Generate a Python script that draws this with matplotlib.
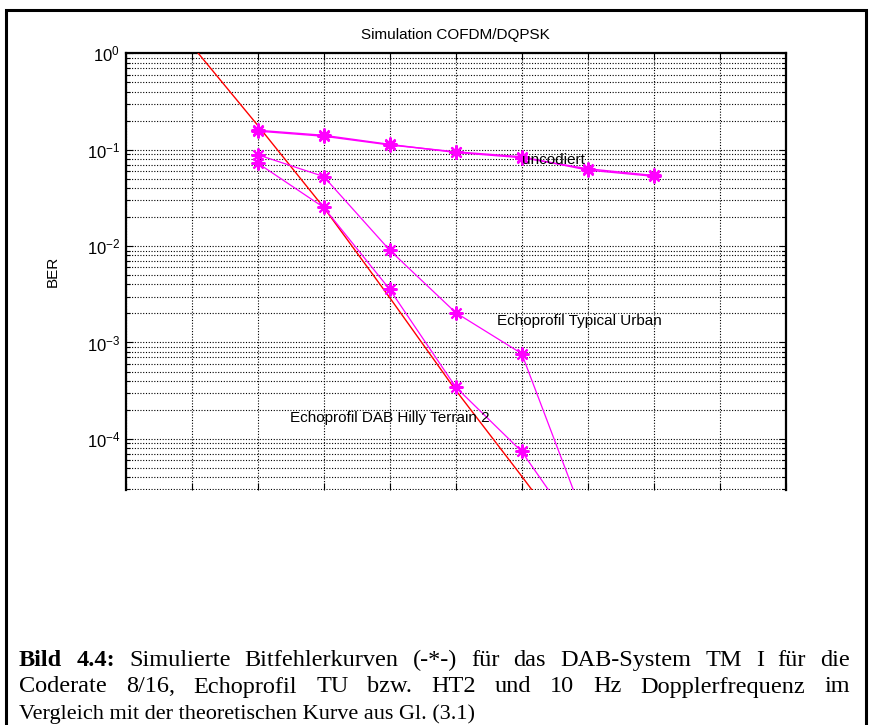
import numpy as np
import matplotlib
matplotlib.use('Agg')
import matplotlib.pyplot as plt
from matplotlib.patches import Rectangle
from matplotlib.ticker import FixedLocator, LogLocator, NullFormatter, NullLocator

# ---------------- data ----------------
snr_grid = [0, 2, 4, 6, 8, 10, 12, 14, 16, 18, 20]
snr = [4, 6, 8, 10, 12, 14, 16]
ber_uncoded_a = [0.159, 0.141, 0.1135, 0.0937, 0.0826, 0.0634, 0.0540]
ber_uncoded_b = [0.156, 0.138, 0.1120, 0.0950, 0.0845, 0.0615, 0.0530]
snr_tu = [4, 6, 8, 10, 12, 14]
ber_tu = [0.0887, 0.0527, 0.00908, 0.00204, 0.000767, 1.2e-5]
snr_ht2 = [4, 6, 8, 10, 12, 14]
ber_ht2 = [0.0726, 0.0252, 0.00356, 0.000345, 7.4e-5, 7.7e-6]
snr_theory = [2, 4, 6, 8, 10, 12, 14]
ber_theory = [1.21, 0.179, 0.0252, 0.00292, 3.2e-4, 4.1e-5, 5.0e-6]
ytick_vals = [1e-4, 1e-3, 1e-2, 1e-1, 1e0]
ytick_labels = [r'$10^{-4}$', r'$10^{-3}$', r'$10^{-2}$', r'$10^{-1}$', r'$10^{0}$']

title = 'Simulation COFDM/DQPSK'
ylabel = 'BER'
label_unc = 'uncodiert'
label_tu = 'Echoprofil Typical Urban'
label_ht2 = 'Echoprofil DAB Hilly Terrain 2'
caption_lines = [
    [('Bild', True), ('4.4:', True), ('Simulierte', False), ('Bitfehlerkurven', False),
     ('(-*-)', False), ('für', False), ('das', False), ('DAB-System', False), ('TM', False),
     ('I', False), ('für', False), ('die', False)],
    [('Coderate', False), ('8/16,', False), ('Echoprofil', False), ('TU', False), ('bzw.', False),
     ('HT2', False), ('und', False), ('10', False), ('Hz', False), ('Dopplerfrequenz', False),
     ('im', False)],
    [('Vergleich mit der theoretischen Kurve aus Gl. (3.1)', False)],
]

# ---------------- style ----------------
plt.rcParams['font.family'] = ['Liberation Sans', 'DejaVu Sans']
plt.rcParams['mathtext.fontset'] = 'custom'
plt.rcParams['mathtext.rm'] = 'Liberation Sans'
plt.rcParams['mathtext.it'] = 'Liberation Sans'
plt.rcParams['mathtext.default'] = 'rm'

W, H = 871, 725
fig = plt.figure(figsize=(W / 100, H / 100), dpi=100)
fig.patch.set_facecolor('white')

def fx(px):
    return px / W

def fy(py):
    return 1 - py / H

ax_l, ax_r, ax_t, ax_b = 125.7, 785.7, 53.3, 490.0
ax = fig.add_axes([fx(ax_l), fy(ax_b), fx(ax_r - ax_l), (ax_b - ax_t) / H])
ax.set_yscale('log')
ax.set_xlim(snr_grid[0], snr_grid[-1])
ax.set_ylim(2.95e-5, 1.0)

mag = '#FF00FF'
ast = (8, 2, 0)
mk = dict(marker=ast, ms=10, mew=1.5)
ax.plot(snr_theory, ber_theory, color='#FF0000', lw=1.0, zorder=3)
ax.plot(snr, ber_uncoded_a, color=mag, lw=1.0, zorder=4, **mk)
ax.plot(snr, ber_uncoded_b, color=mag, lw=1.0, zorder=4, **mk)
ax.plot(snr_tu, ber_tu, color=mag, lw=0.9, zorder=4, **mk)
ax.plot(snr_ht2, ber_ht2, color=mag, lw=0.9, zorder=4, **mk)

ax.xaxis.set_major_locator(FixedLocator(snr_grid))
ax.xaxis.set_minor_locator(NullLocator())
ax.yaxis.set_major_locator(FixedLocator(ytick_vals))
ax.set_yticklabels(ytick_labels)
ax.yaxis.set_minor_locator(LogLocator(base=10, subs=np.arange(2, 10)))
ax.yaxis.set_minor_formatter(NullFormatter())

grid_style = dict(color='black', lw=0.8, linestyle=(0, (1, 1.5)))
ax.grid(True, which='major', axis='both', **grid_style)
ax.grid(True, which='minor', axis='y', **grid_style)
ax.set_axisbelow(True)

ax.tick_params(axis='both', which='both', direction='in', top=True, right=True,
               labelbottom=False, labelsize=12, width=0.8, pad=4)
ax.tick_params(which='major', length=5)
ax.tick_params(which='minor', length=3)
for s in ['left', 'top', 'right']:
    ax.spines[s].set_linewidth(1.6)
ax.spines['bottom'].set_visible(False)

ax.set_ylabel(ylabel, fontsize=11)
ax.yaxis.set_label_coords((60 - ax_l) / (ax_r - ax_l), 0.5)

ax.text(12.0, 0.079, label_unc, fontsize=11, ha='left', va='center', zorder=5)
ax.text(11.24, 1.67e-3, label_tu, fontsize=11, ha='left', va='center', zorder=5)
ax.text(4.98, 1.64e-4, label_ht2, fontsize=11, ha='left', va='center', zorder=5)

fig.text(fx((ax_l + ax_r) / 2), fy(35), title, fontsize=11, ha='center', va='center')

# outer border of the figure box
fig.add_artist(Rectangle((fx(6), -0.05), fx(866 - 6), fy(10) + 0.05,
                         transform=fig.transFigure, fill=False, lw=2.2, ec='black'))

# ---------------- caption (justified) ----------------
renderer = fig.canvas.get_renderer()
cap_left, cap_right = 19.0, 850.0
cap_base = [666.0, 692.5, 719.0]
cap_sizes = [17.5, 17.5, 16]
for li, words in enumerate(caption_lines):
    texts = []
    for w, bold in words:
        t = fig.text(0, fy(cap_base[li]), w, fontsize=cap_sizes[li],
                     family=['Liberation Serif', 'DejaVu Serif'],
                     weight='bold' if bold else 'normal', ha='left', va='baseline')
        texts.append(t)
    widths = [t.get_window_extent(renderer).width for t in texts]
    if len(texts) > 1:
        gap = (cap_right - cap_left - sum(widths)) / (len(texts) - 1)
    else:
        gap = 0
    x = cap_left
    for t, wd in zip(texts, widths):
        t.set_x(fx(x))
        x += wd + gap

fig.savefig('out.png', dpi=100, facecolor='white')
